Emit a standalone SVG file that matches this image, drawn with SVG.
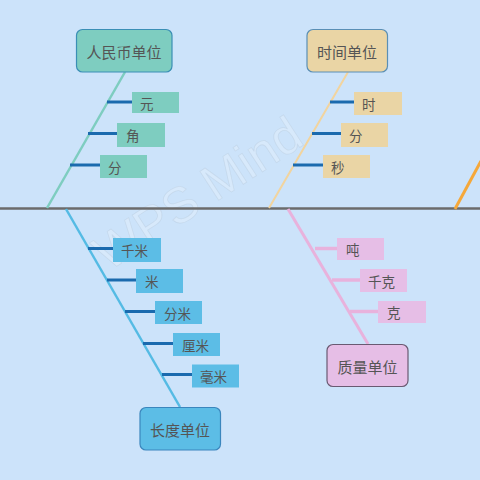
<svg xmlns="http://www.w3.org/2000/svg" width="480" height="480" viewBox="0 0 480 480">
<style>
text{font-family:"Noto Sans CJK SC","Liberation Sans",sans-serif;fill:#555;dominant-baseline:central}
.main{font-size:15px;text-anchor:middle}
.leaf{font-size:13.5px}
.br{stroke:#1a6aae;stroke-width:3;fill:none}
.pk{stroke:#e8b2dc;stroke-width:3.5;fill:none}
</style>
<rect x="0" y="0" width="480" height="480" fill="#cce3fa"/>
<text x="108" y="272" transform="rotate(-33 108 272)" style="font-family:'Liberation Sans',sans-serif;font-size:50px;fill:#ffffff;fill-opacity:0.22;stroke:#9aaabb;stroke-opacity:0.2;stroke-width:0.8;dominant-baseline:auto">WPS Mind</text>
<g id="connectors">
<line x1="0" y1="208.5" x2="480" y2="208.5" stroke="#6b6b6b" stroke-width="2.5"/>
<line x1="455" y1="209" x2="481" y2="161" stroke="#f5a83a" stroke-width="3"/>
<line x1="125" y1="72" x2="47" y2="208" stroke="#7ecdc0" stroke-width="2.5"/>
<line x1="348" y1="72" x2="269" y2="208" stroke="#f2d49e" stroke-width="2"/>
<line x1="66" y1="209" x2="180" y2="407" stroke="#55bbe4" stroke-width="2.5"/>
<line x1="288" y1="209" x2="368" y2="344" stroke="#e8b2dc" stroke-width="3"/>
<line class="br" x1="107" y1="102" x2="133" y2="102"/>
<line class="br" x1="88" y1="133.5" x2="118" y2="133.5"/>
<line class="br" x1="70" y1="165" x2="101" y2="165"/>
<line class="br" x1="330" y1="102" x2="355" y2="102"/>
<line class="br" x1="312" y1="133.5" x2="342" y2="133.5"/>
<line class="br" x1="293" y1="165" x2="323" y2="165"/>
<line class="br" x1="88" y1="248.5" x2="114" y2="248.5"/>
<line class="br" x1="107" y1="280" x2="137" y2="280"/>
<line class="br" x1="125" y1="311.5" x2="156" y2="311.5"/>
<line class="br" x1="143" y1="343.5" x2="174" y2="343.5"/>
<line class="br" x1="162" y1="374.5" x2="192" y2="374.5"/>
<line class="pk" x1="315" y1="248.5" x2="337" y2="248.5"/>
<line class="pk" x1="332" y1="280" x2="361" y2="280"/>
<line class="pk" x1="350" y1="311.5" x2="379" y2="311.5"/>
</g>
<g id="n-rmb"><rect x="76.5" y="29.5" width="95.5" height="42.5" rx="6" fill="#7ecdc0" stroke="#3a8fb5" stroke-width="1.2"/><text class="main" x="124" y="51">人民币单位</text></g>
<g id="n-yuan"><rect x="132" y="92" width="47" height="21" fill="#7ecdc0"/><text class="leaf" x="140" y="102.5">元</text></g>
<g id="n-jiao"><rect x="117" y="123" width="48" height="24" fill="#7ecdc0"/><text class="leaf" x="126" y="135">角</text></g>
<g id="n-fen"><rect x="100" y="155" width="47" height="23" fill="#7ecdc0"/><text class="leaf" x="108" y="166.5">分</text></g>
<g id="n-time"><rect x="307" y="29.5" width="80.5" height="42.5" rx="6" fill="#ead5a5" stroke="#5a8fb5" stroke-width="1.2"/><text class="main" x="347" y="51">时间单位</text></g>
<g id="n-shi"><rect x="354" y="92" width="48" height="23" fill="#ead5a5"/><text class="leaf" x="362" y="103.5">时</text></g>
<g id="n-fen2"><rect x="341" y="123" width="47" height="24" fill="#ead5a5"/><text class="leaf" x="349" y="135">分</text></g>
<g id="n-miao"><rect x="323" y="155" width="47" height="23" fill="#ead5a5"/><text class="leaf" x="331" y="166.5">秒</text></g>
<g id="n-len"><rect x="140" y="407.5" width="80.5" height="42.5" rx="6" fill="#5cbde6" stroke="#3a86bd" stroke-width="1.2"/><text class="main" x="180" y="429">长度单位</text></g>
<g id="n-qm"><rect x="113" y="238" width="48" height="24" fill="#5cbde6"/><text class="leaf" x="121" y="250">千米</text></g>
<g id="n-m"><rect x="136" y="269" width="47" height="24" fill="#5cbde6"/><text class="leaf" x="145" y="281">米</text></g>
<g id="n-fm"><rect x="155" y="301" width="47" height="23" fill="#5cbde6"/><text class="leaf" x="164" y="312.5">分米</text></g>
<g id="n-lm"><rect x="173" y="333" width="47" height="23" fill="#5cbde6"/><text class="leaf" x="182" y="344.5">厘米</text></g>
<g id="n-hm"><rect x="192" y="364.5" width="47" height="23" fill="#5cbde6"/><text class="leaf" x="200" y="376">毫米</text></g>
<g id="n-mass"><rect x="327" y="344.5" width="81" height="42" rx="6" fill="#e6bee6" stroke="#6a5a72" stroke-width="1.2"/><text class="main" x="367.5" y="366">质量单位</text></g>
<g id="n-dun"><rect x="337" y="238" width="47" height="22" fill="#e6bee6"/><text class="leaf" x="346" y="249">吨</text></g>
<g id="n-qk"><rect x="360" y="269" width="47" height="23" fill="#e6bee6"/><text class="leaf" x="368" y="280.5">千克</text></g>
<g id="n-ke"><rect x="378" y="301" width="48" height="22" fill="#e6bee6"/><text class="leaf" x="387" y="312">克</text></g>
</svg>
